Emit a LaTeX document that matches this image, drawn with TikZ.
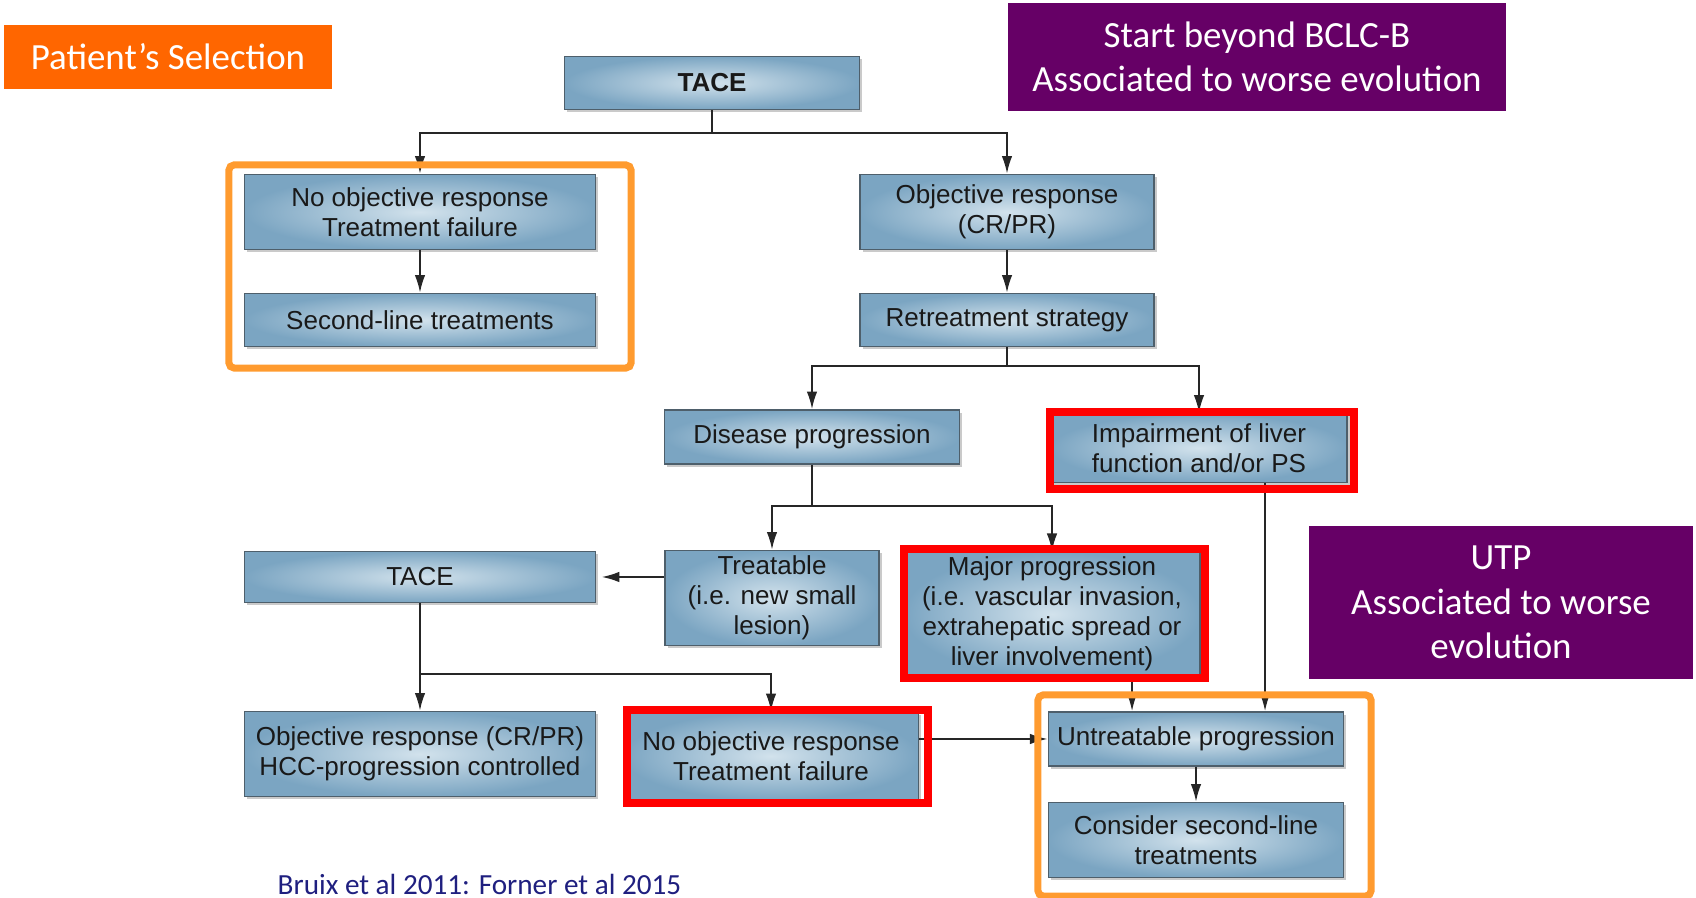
\documentclass[tikz,border=0pt]{standalone}
\usepackage{fontspec}
\setmainfont{Carlito}
\newfontfamily\boxfont{Liberation Sans}
\newcommand\myflowfont{\boxfont\fontsize{7.4}{8.5}\selectfont\lineskiplimit=-10pt\relax}
\usetikzlibrary{arrows.meta,shadows,calc}
\definecolor{boxedge}{HTML}{7BA5C2}
\definecolor{boxmid}{HTML}{D2E2EC}
\definecolor{boxline}{HTML}{4E5F6B}
\definecolor{selorange}{HTML}{FF6600}
\definecolor{hlorange}{HTML}{FF9B2F}
\definecolor{utppurple}{HTML}{660066}
\definecolor{citeblue}{HTML}{1F1F7F}
\definecolor{hlred}{HTML}{FF0000}
\begin{document}
\begin{tikzpicture}[x=0.01cm,y=-0.01cm,
 flow/.style={draw=boxline, line width=0.5pt, shading=radial, inner color=boxmid, outer color=boxedge,
   drop shadow={shadow xshift=0.8pt, shadow yshift=-0.8pt, fill=black!35, opacity=0.6},
   align=center, inner sep=0pt, font=\myflowfont, text=black!90},
 arr/.style={draw=black!85, line width=0.5pt, -{Latex[length=5pt,width=3pt]}},
 link/.style={draw=black!85, line width=0.5pt},
 hlbox/.style={draw=hlorange, line width=2pt, rounded corners=1.5pt},
 redbox/.style={draw=hlred, line width=2.2pt},
 titlebox/.style={text=white, align=center, inner sep=0pt, font=\fontsize{10.5}{12.6}\selectfont}
]
\useasboundingbox (0,0) rectangle (1696,898);

% title / annotation boxes
\node[titlebox, fill=selorange, minimum width=3.27cm, minimum height=0.64cm] (sel) at (168,57) {Patient’s Selection};
\node[titlebox, fill=utppurple, minimum width=4.98cm, minimum height=1.08cm] (p1) at (1257,57) {Start beyond BCLC-B\\Associated to worse evolution};
\node[titlebox, fill=utppurple, minimum width=3.84cm, minimum height=1.53cm] (p2) at (1501,602.5) {UTP\\Associated to worse\\evolution};
\node[anchor=base west, text=citeblue, font=\fontsize{8.3}{10}\selectfont, inner sep=0pt] (cite) at (277,895) {Bruix et al 2011: Forner et al 2015};

% flow boxes
\node[flow, minimum width=2.95cm, minimum height=0.53cm] (tace1) at (712,83) {\bfseries TACE};
\node[flow, minimum width=3.51cm, minimum height=0.75cm] (nor1) at (420,212) {No objective response\\Treatment failure};
\node[flow, minimum width=3.51cm, minimum height=0.53cm] (slt) at (420,320) {Second-line treatments};
\node[flow, minimum width=2.94cm, minimum height=0.75cm] (obr) at (1007,212) {Objective response\\(CR/PR)};
\node[flow, minimum width=2.94cm, minimum height=0.53cm] (ret) at (1007,320) {Retreatment strategy};
\node[flow, minimum width=2.95cm, minimum height=0.54cm] (dp) at (812,437) {Disease progression};
\node[flow, minimum width=2.96cm, minimum height=0.69cm] (imp) at (1199,448) {Impairment of liver\\function and/or PS};
\node[flow, minimum width=3.51cm, minimum height=0.51cm] (tace2) at (420,577) {TACE};
\node[flow, minimum width=2.14cm, minimum height=0.95cm] (trt) at (772,598) {Treatable\\(i.e. new small\\lesion)};
\node[flow, minimum width=2.96cm, minimum height=1.24cm] (maj) at (1052,614) {Major progression\\(i.e. vascular invasion,\\extrahepatic spread or\\liver involvement)};
\node[flow, minimum width=3.51cm, minimum height=0.85cm] (ocr) at (420,754) {Objective response (CR/PR)\\HCC-progression controlled};
\node[flow, minimum width=2.95cm, minimum height=0.88cm] (nor2) at (771,756) {No objective response\\Treatment failure};
\node[flow, minimum width=2.95cm, minimum height=0.54cm] (unt) at (1196,739) {Untreatable progression};
\node[flow, minimum width=2.95cm, minimum height=0.75cm] (con) at (1196,840) {Consider second-line\\treatments};

% connectors
\coordinate (j1) at (712,133);
\draw[link] (tace1.south) -- (j1);
\draw[arr] (j1) -| (nor1.north);
\draw[arr] (j1) -| (obr.north);
\draw[arr] (nor1) -- (slt);
\draw[arr] (obr) -- (ret);
\coordinate (j2) at (1007,366);
\draw[link] (ret.south) -- (j2);
\draw[arr] (j2) -| (dp.north);
\draw[arr] (j2) -| (imp.north);
\coordinate (j3) at (812,506);
\draw[link] (dp.south) -- (j3);
\draw[arr] (j3) -| (trt.north);
\draw[arr] (j3) -| (maj.north);
\draw[arr, shorten >=1.5pt] (trt.west |- tace2.east) -- (tace2.east);
\coordinate (j4) at (420,674);
\draw[link] (tace2.south) -- (j4);
\draw[arr] (j4) -- (ocr.north);
\draw[arr] (j4) -| (nor2.north);
\draw[arr] (nor2.east |- unt.west) -- (unt.west);
\draw[arr] ([xshift=0.8cm]maj.south) -- ([xshift=0.8cm]maj.south |- unt.north);
\draw[arr] ([xshift=0.66cm]imp.south) -- ([xshift=0.66cm]imp.south |- unt.north);
\draw[arr] (unt) -- (con);

% highlight frames
\node[hlbox, minimum width=4.02cm, minimum height=2.03cm] (o1) at (430,266.5) {};
\node[hlbox, minimum width=3.33cm, minimum height=2.01cm] (o2) at (1204.5,795.5) {};
\node[redbox, minimum width=3.04cm, minimum height=0.77cm] (r1) at (1202,450.5) {};
\node[redbox, minimum width=3.01cm, minimum height=1.29cm] (r2) at (1054.5,613.5) {};
\node[redbox, minimum width=3.01cm, minimum height=0.93cm] (r3) at (777.5,756.5) {};
\end{tikzpicture}
\end{document}
